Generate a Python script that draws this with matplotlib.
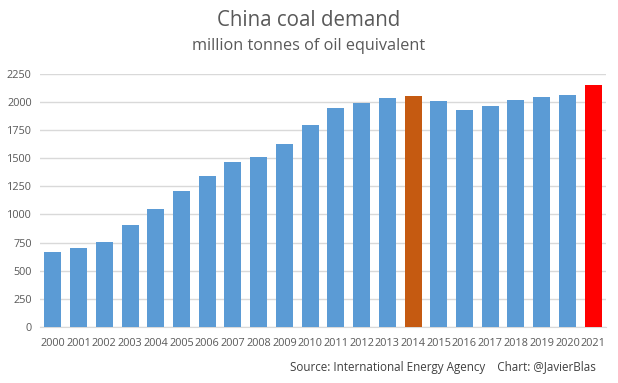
import matplotlib
matplotlib.use("Agg")
import matplotlib.pyplot as plt

years = [str(y) for y in range(2000, 2022)]
demand = [666, 702, 755, 906, 1048, 1208, 1341, 1465, 1510, 1625, 1794,
          1945, 1989, 2034, 2051, 2007, 1927, 1963, 2016, 2043, 2060, 2149]
highlight = {"2014": "#C55A11", "2021": "#FF0000"}
base_color = "#5B9BD5"
yticks = [0, 250, 500, 750, 1000, 1250, 1500, 1750, 2000, 2250]

plt.rcParams['font.family'] = ['Open Sans', 'DejaVu Sans']
fig = plt.figure(figsize=(6.18, 3.83), dpi=100)
ax = fig.add_axes([40/618, 1-327/383, 566/618, (327-73.7)/383])

colors = [highlight.get(y, base_color) for y in years]
ax.bar(range(len(years)), demand, width=0.66, color=colors, zorder=3)
ax.set_xlim(-0.5, len(years) - 0.5)
ax.set_ylim(0, 2250)
ax.set_yticks(yticks)
ax.set_yticklabels([str(t) for t in yticks])
ax.set_xticks(range(len(years)))
ax.set_xticklabels(years)
ax.tick_params(axis='both', length=0, labelsize=7.8, colors='#595959')
ax.tick_params(axis='x', pad=8)
ax.tick_params(axis='y', pad=6)
ax.grid(axis='y', color='#D9D9D9', linewidth=1, zorder=0)
for s in ['top', 'right', 'left']:
    ax.spines[s].set_visible(False)
ax.spines['bottom'].set_color('#D9D9D9')

fig.text(0.5, 1-20/383, "China coal demand", ha='center', va='center', fontsize=14.8, color='#595959')
fig.text(0.5, 1-46/383, "million tonnes of oil equivalent", ha='center', va='center', fontsize=11.7, color='#595959')
fig.text(290/618, 1-367/383, "Source: International Energy Agency    Chart: @JavierBlas", ha='left', va='center', fontsize=8.4, color='#404040')

fig.savefig("out.png", dpi=100)
